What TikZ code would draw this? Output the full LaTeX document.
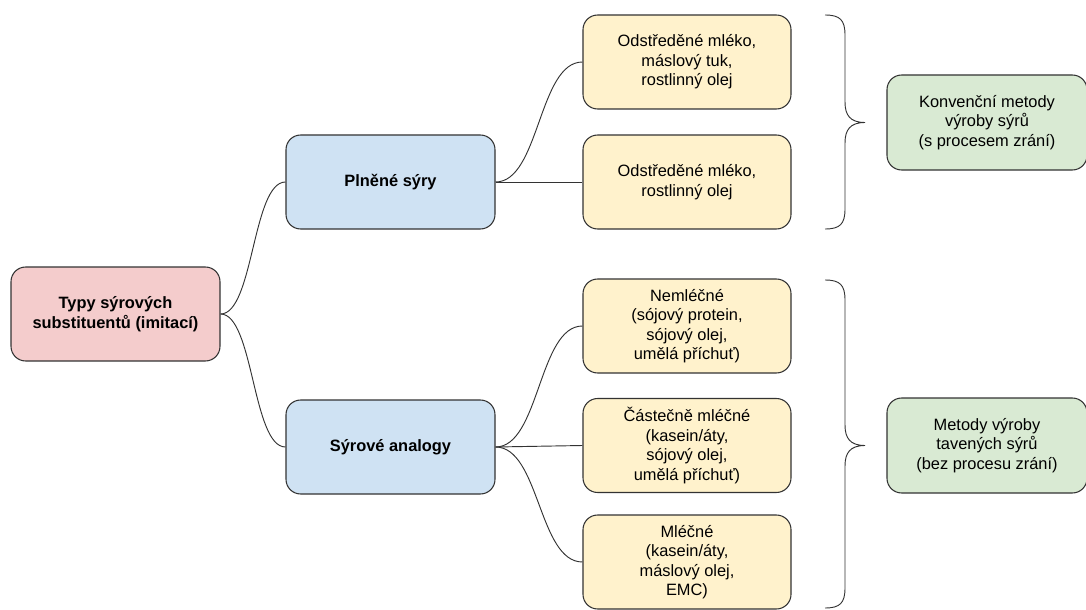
\documentclass[tikz,border=0pt]{standalone}
\usepackage{fontspec}
\setmainfont{Liberation Sans}
\begin{document}
\begin{tikzpicture}[x=0.75pt,y=-0.75pt,
  box/.style={draw=black!80, line width=0.8pt, rounded corners=11pt, align=center,
    minimum height=94*0.75pt, inner sep=2pt, font=\fontsize{12.3}{14.6}\selectfont},
  rootbox/.style={box, fill=rootpink, minimum width=209*0.75pt, font=\fontsize{12.3}{14.6}\selectfont\bfseries},
  groupbox/.style={box, fill=groupblue, minimum width=209*0.75pt, font=\fontsize{12.3}{14.6}\selectfont\bfseries},
  itembox/.style={box, fill=itemyellow, minimum width=208*0.75pt},
  methodbox/.style={box, fill=methodgreen, minimum width=200*0.75pt, minimum height=95*0.75pt},
  link/.style={draw=black!80, line width=0.7pt},
  bracestyle/.style={draw=black!80, line width=0.7pt}]
\definecolor{rootpink}{HTML}{F4CCCC}
\definecolor{groupblue}{HTML}{CFE2F3}
\definecolor{itemyellow}{HTML}{FFF2CC}
\definecolor{methodgreen}{HTML}{D9EAD3}
\useasboundingbox (0,0) rectangle (1086,610);

% main nodes
\node[rootbox] (root) at (115.5,314) {Typy sýrových\\substituentů (imitací)};
\node[groupbox] (filled) at (390.5,182) {Plněné sýry};
\node[groupbox] (analog) at (390.5,447) {Sýrové analogy};

\node[itembox] (i1) at (687,62) {Odstředěné mléko,\\máslový tuk,\\rostlinný olej};
\node[itembox] (i2) at (687,182) {Odstředěné mléko,\\rostlinný olej};
\node[itembox] (i3) at (687,326) {Nemléčné\\(sójový protein,\\sójový olej,\\umělá příchuť)};
\node[itembox] (i4) at (687,445.5) {Částečně mléčné\\(kasein/áty,\\sójový olej,\\umělá příchuť)};
\node[itembox] (i5) at (687,562) {Mléčné\\(kasein/áty,\\máslový olej,\\EMC)};

\node[methodbox] (m1) at (987,122.5) {Konvenční metody\\výroby sýrů\\(s procesem zrání)};
\node[methodbox] (m2) at (987,445.5) {Metody výroby\\tavených sýrů\\(bez procesu zrání)};

% curved connectors
\path[link] (root.east) .. controls +(33,0) and +(-33,0) .. (filled.west);
\path[link] (root.east) .. controls +(33,0) and +(-33,0) .. (analog.west);
\path[link] (filled.east) .. controls +(44,0) and +(-44,0) .. (i1.west);
\path[link] (filled.east) -- (i2.west);
\path[link] (analog.east) .. controls +(44,0) and +(-44,0) .. (i3.west);
\path[link] (analog.east) -- (i4.west);
\path[link] (analog.east) .. controls +(44,0) and +(-44,0) .. (i5.west);

% curly braces
\coordinate (b1top) at (825,15);
\coordinate (b1tip) at (865,122.5);
\coordinate (b1bot) at (825,229);
\path[bracestyle] (b1top) .. controls (840,15) and (845,20) .. (845,35)
  -- (845,102) .. controls (845,115) and (850,122.5) .. (b1tip)
  .. controls (850,122.5) and (845,130) .. (845,143)
  -- (845,209) .. controls (845,224) and (840,229) .. (b1bot);

\coordinate (b2top) at (825,280);
\coordinate (b2tip) at (865,445.5);
\coordinate (b2bot) at (825,608);
\path[bracestyle] (b2top) .. controls (840,280) and (845,285) .. (845,300)
  -- (845,425) .. controls (845,438) and (850,445.5) .. (b2tip)
  .. controls (850,445.5) and (845,453) .. (845,466)
  -- (845,588) .. controls (845,603) and (840,608) .. (b2bot);
\end{tikzpicture}
\end{document}
